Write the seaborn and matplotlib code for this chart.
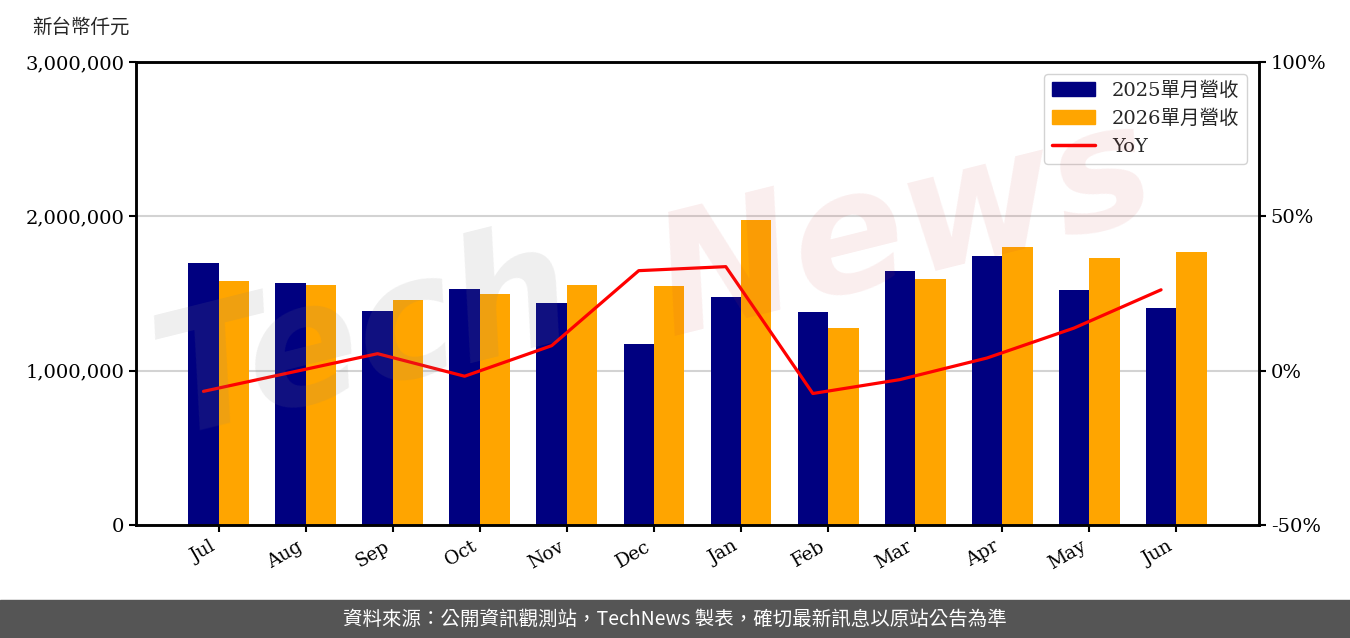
import numpy as np
import pandas as pd
import matplotlib
matplotlib.use("Agg")
import matplotlib.pyplot as plt
import seaborn as sns
from matplotlib.patches import Patch
from matplotlib.lines import Line2D
from matplotlib.ticker import FuncFormatter, FixedLocator

# ---------------- data ----------------
months = ["Jul", "Aug", "Sep", "Oct", "Nov", "Dec", "Jan", "Feb", "Mar", "Apr", "May", "Jun"]
rev_2025 = [1698000, 1568000, 1387000, 1529000, 1438000, 1173000,
            1477000, 1380000, 1646000, 1743000, 1523000, 1406000]
rev_2026 = [1581000, 1555000, 1458000, 1497000, 1555000, 1549000,
            1976000, 1276000, 1594000, 1801000, 1730000, 1769000]
yoy_pct = [-6.7, -0.6, 5.5, -1.8, 8.1, 32.4, 33.7, -7.4, -2.9, 4.1, 13.8, 26.2]
series_names = ["2025單月營收", "2026單月營收"]
yoy_name = "YoY"
left_ticks = [0, 1000000, 2000000, 3000000]
right_ticks = [-50, 0, 50, 100]
unit_label = "新台幣仟元"
footer = "資料來源：公開資訊觀測站，TechNews 製表，確切最新訊息以原站公告為準"

bar_colors = ["#000080", "#FFA500"]

# ---------------- style ----------------
sns.set_style("white")
serif = ["DejaVu Serif", "Noto Sans CJK TC"]
plt.rcParams["font.family"] = serif

fig = plt.figure(figsize=(13.5, 6.38), dpi=100)
ax = fig.add_axes([136 / 1350, 1 - 525 / 638, (1259 - 136) / 1350, (525 - 62) / 638])

df = pd.DataFrame({
    "month": months * 2,
    "value": rev_2025 + rev_2026,
    "series": [series_names[0]] * len(months) + [series_names[1]] * len(months),
})
sns.barplot(data=df, x="month", y="value", hue="series", order=months,
            hue_order=series_names, palette=bar_colors, width=0.7,
            saturation=1, errorbar=None, legend=False, ax=ax, zorder=2,
            linewidth=0, edgecolor="none")

ax.set_ylim(0, 3000000)
ax.set_xlim(-0.95, len(months) - 1 + 0.95)
ax.yaxis.set_major_locator(FixedLocator(left_ticks))
ax.yaxis.set_major_formatter(FuncFormatter(lambda v, p: f"{int(v):,}"))
ax.set_axisbelow(True)
ax.yaxis.grid(True, color="#d3d3d3", lw=1.5)
ax.set_xlabel("")
ax.set_ylabel("")

ax2 = ax.twinx()
sns.lineplot(x=np.arange(len(months)) - 0.175, y=yoy_pct, color="red", lw=2.3, ax=ax2)
ax2.set_ylim(-50, 100)
ax2.yaxis.set_major_locator(FixedLocator(right_ticks))
ax2.yaxis.set_major_formatter(FuncFormatter(lambda v, p: f"{int(v)}%"))
ax2.set_xlim(-0.95, len(months) - 1 + 0.95)

for a in (ax, ax2):
    for s in a.spines.values():
        s.set_color("black")
        s.set_linewidth(1.8)
    a.tick_params(axis="both", direction="out", length=5, width=1.5, color="black",
                  labelsize=14, labelcolor="black")

ax.set_xticks(range(len(months)))
ax.set_xticklabels(months, rotation=30, ha="right", fontsize=13.5)
ax.tick_params(axis="x", bottom=True, pad=4)
ax.tick_params(axis="y", left=True)
ax2.tick_params(axis="y", right=True)

handles = [Patch(color=bar_colors[0]), Patch(color=bar_colors[1]),
           Line2D([], [], color="red", lw=2.5)]
leg = ax2.legend(handles, series_names + [yoy_name], loc="upper right",
                 fontsize=14, handlelength=2.2, handletextpad=0.9,
                 frameon=True, fancybox=True, edgecolor="#cccccc", framealpha=0.85,
                 borderaxespad=0.6)

# unit label
fig.text(32 / 1350, 1 - 27 / 638, unit_label, ha="left", va="center",
         fontsize=14, family=["Noto Sans CJK TC"])

# watermark
fig.text(140 / 1350, 1 - 470 / 638, "Tech", fontsize=120, fontweight="bold",
         style="italic", color="gray", alpha=0.13, rotation=14,
         ha="left", va="bottom", family=["DejaVu Sans"])
fig.text(640 / 1350, 1 - 370 / 638, "News", fontsize=120, fontweight="bold",
         style="italic", color="#d04040", alpha=0.09, rotation=14,
         ha="left", va="bottom", family=["DejaVu Sans"])

# footer band
fig.patches.append(plt.Rectangle((0, 0), 1, 38 / 638, transform=fig.transFigure,
                                 color="#555555", zorder=0))
fig.text(0.5, 19 / 638, footer, ha="center", va="center", color="white",
         fontsize=14, family=["Noto Sans CJK TC", "DejaVu Sans"])

fig.savefig("out.png", dpi=100)
